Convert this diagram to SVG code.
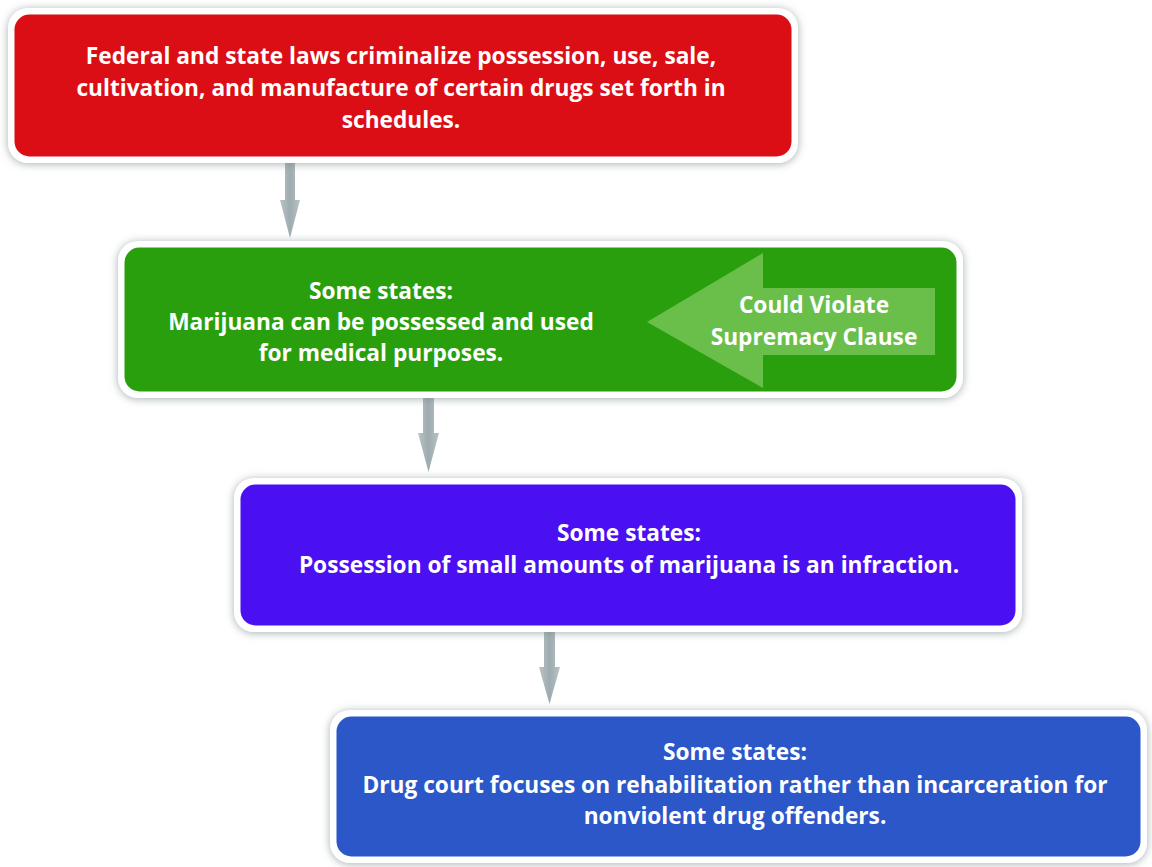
<svg xmlns="http://www.w3.org/2000/svg" width="1152" height="867" viewBox="0 0 1152 867">
<style>
.frame{fill:#ffffff;filter:url(#sh)}
.t{font-family:"Open Sans","Liberation Sans",sans-serif;font-weight:bold;font-size:22.7px;fill:#ffffff;text-anchor:middle}
</style>
<defs>
<filter id="sh" x="-5%" y="-20%" width="110%" height="140%">
<feDropShadow dx="0" dy="1" stdDeviation="4" flood-color="#7f8c8f" flood-opacity="0.7"/>
</filter>
<linearGradient id="ag" x1="0" y1="0" x2="1" y2="0">
<stop offset="0" stop-color="#b8c3c6"/><stop offset="0.5" stop-color="#9eabaf"/><stop offset="1" stop-color="#b8c3c6"/>
</linearGradient>
</defs>
<rect width="1152" height="867" fill="#ffffff"/>
<g id="connectors">
<path fill="url(#ag)" d="M285,163 H295 V200 H300 L290,238 L280,200 H285 Z"/>
<path fill="url(#ag)" d="M423,398 H434 V433 H439 L428.5,472 L418,433 H423 Z"/>
<path fill="url(#ag)" d="M544,632 H555 V667 H560 L549.5,704 L539,667 H544 Z"/>
</g>
<g id="node-federal">
<rect class="frame" x="8" y="8" width="790" height="155" rx="20"/>
<rect x="14.5" y="14.5" width="777" height="142" rx="15" fill="#db0e16"/>
<text class="t" x="401" y="64">Federal and state laws criminalize possession, use, sale,</text>
<text class="t" x="401" y="96">cultivation, and manufacture of certain drugs set forth in</text>
<text class="t" x="401" y="128">schedules.</text>
</g>
<g id="node-medical">
<rect class="frame" x="118" y="241" width="845" height="157" rx="20"/>
<rect x="124.5" y="247.5" width="832" height="144" rx="15" fill="#299f0d"/>
<text class="t" x="381" y="299">Some states:</text>
<text class="t" x="381" y="330">Marijuana can be possessed and used</text>
<text class="t" x="381" y="361">for medical purposes.</text>
</g>
<g id="node-supremacy">
<path fill="#6abf4b" d="M935,288 V355 H763 V388 L647,322 L763,253 V288 Z"/>
<text class="t" x="814" y="313">Could Violate</text>
<text class="t" x="814" y="345">Supremacy Clause</text>
</g>
<g id="node-infraction">
<rect class="frame" x="234" y="478" width="788" height="154" rx="20"/>
<rect x="240.5" y="484.5" width="775" height="141" rx="15" fill="#4b10f2"/>
<text class="t" x="629" y="541">Some states:</text>
<text class="t" x="629" y="573">Possession of small amounts of marijuana is an infraction.</text>
</g>
<g id="node-drugcourt">
<rect class="frame" x="330" y="710" width="817" height="153" rx="20"/>
<rect x="336.5" y="716.5" width="804" height="140" rx="15" fill="#2b57c9"/>
<text class="t" x="735" y="760">Some states:</text>
<text class="t" x="735" y="793">Drug court focuses on rehabilitation rather than incarceration for</text>
<text class="t" x="735" y="824">nonviolent drug offenders.</text>
</g>
</svg>
